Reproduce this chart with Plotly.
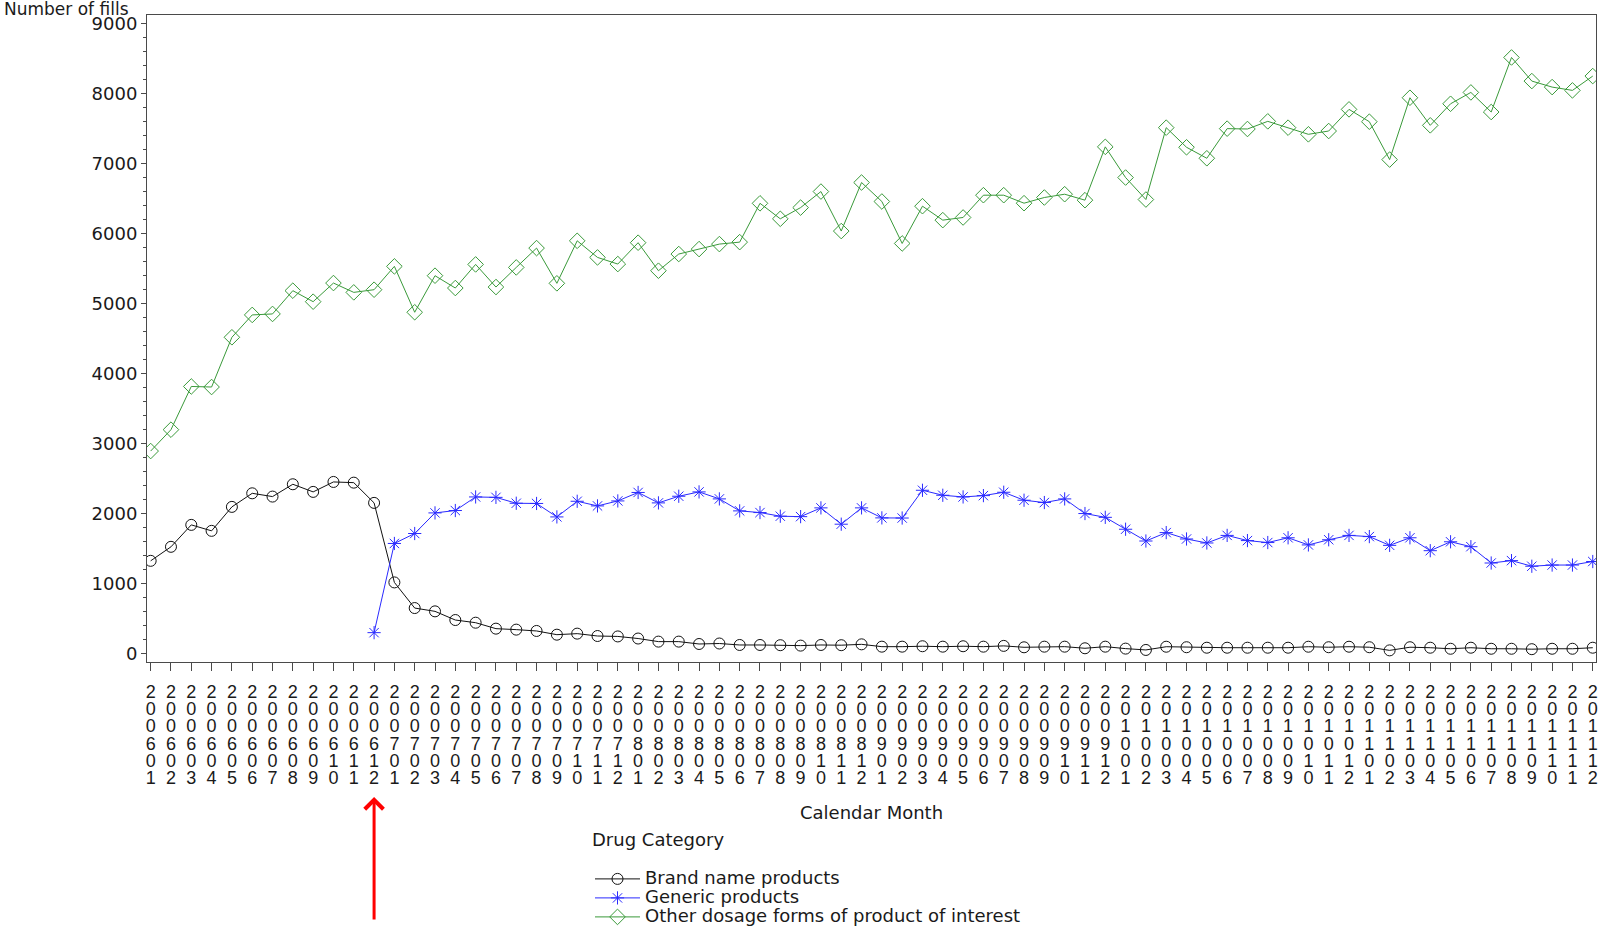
import plotly.graph_objects as go

months = [
    "200601", "200602", "200603", "200604", "200605", "200606", "200607", "200608", "200609", "200610", "200611", "200612",
    "200701", "200702", "200703", "200704", "200705", "200706", "200707", "200708", "200709", "200710", "200711", "200712",
    "200801", "200802", "200803", "200804", "200805", "200806", "200807", "200808", "200809", "200810", "200811", "200812",
    "200901", "200902", "200903", "200904", "200905", "200906", "200907", "200908", "200909", "200910", "200911", "200912",
    "201001", "201002", "201003", "201004", "201005", "201006", "201007", "201008", "201009", "201010", "201011", "201012",
    "201101", "201102", "201103", "201104", "201105", "201106", "201107", "201108", "201109", "201110", "201111", "201112",
]

brand = [
    1329, 1529, 1842, 1757, 2099, 2293, 2246, 2422, 2313, 2455, 2445, 2156,
    1021, 655, 608, 484, 446, 361, 347, 328, 275, 290, 256, 250,
    220, 176, 176, 142, 149, 128, 128, 125, 119, 128, 125, 137,
    104, 104, 110, 104, 110, 104, 115, 95, 104, 104, 81, 104,
    76, 57, 103, 96, 89, 89, 89, 89, 89, 103, 96, 103,
    96, 51, 96, 89, 74, 89, 74, 74, 68, 74, 74, 89,
]

generic = [
    None, None, None, None, None, None, None, None, None, None, None, 304,
    1577, 1719, 2013, 2047, 2241, 2235, 2151, 2148, 1956, 2179, 2113, 2184,
    2305, 2156, 2251, 2313, 2213, 2042, 2018, 1966, 1960, 2085, 1852, 2085,
    1942, 1940, 2336, 2265, 2241, 2260, 2308, 2194, 2161, 2213, 2004, 1950,
    1780, 1612, 1732, 1641, 1584, 1692, 1618, 1590, 1658, 1556, 1630, 1692,
    1675, 1550, 1658, 1474, 1601, 1531, 1298, 1332, 1252, 1269, 1269, 1319,
]

other = [
    2896, 3201, 3818, 3810, 4520, 4839, 4853, 5185, 5028, 5294, 5161, 5199,
    5532, 4877, 5399, 5223, 5560, 5237, 5517, 5793, 5290, 5897, 5660, 5565,
    5870, 5470, 5708, 5779, 5850, 5878, 6432, 6211, 6371, 6600, 6036, 6729,
    6458, 5859, 6391, 6192, 6230, 6548, 6548, 6434, 6515, 6562, 6477, 7238,
    6800, 6486, 7512, 7232, 7075, 7498, 7493, 7602, 7512, 7417, 7464, 7773,
    7597, 7056, 7939, 7545, 7853, 8015, 7735, 8514, 8177, 8091, 8044, 8248,
]

series_names = ["Brand name products", "Generic products", "Other dosage forms of product of interest"]
arrow_month = "200612"

y_ticks = [0, 1000, 2000, 3000, 4000, 5000, 6000, 7000, 8000, 9000]

# ---- layout constants ----
W, H = 1602, 928
ML, MR, MT, MB = 147, 6, 15, 266
PW = W - ML - MR
PH = H - MT - MB
XR = [-0.18, 71.16]
YR = [-115, 9120]
AX = "#4a4a4a"
TXT = "#1a1a1a"
FONT = "DejaVu Sans"


def px_to_paper_x(px):
    return (px - ML) / PW


def px_to_paper_y(py):
    return (H - MB - py) / PH


fig = go.Figure()

styles = [
    dict(color="#111111", symbol="circle-open", size=11),
    dict(color="#2a2aff", symbol="asterisk-open", size=11),
    dict(color="#3a9a3a", symbol="diamond-open", size=12),
]
for name, vals, st in zip(series_names, [brand, generic, other], styles):
    fig.add_trace(go.Scatter(
        x=months, y=vals, name=f'<span style="font-size:18px">{name}</span>',
        mode="lines+markers",
        line=dict(color=st["color"], width=1),
        marker=dict(symbol=st["symbol"], size=st["size"], color=st["color"],
                    line=dict(color=st["color"], width=1)),
        connectgaps=False,
    ))

# stacked digit tick labels: first row on main axis, others on overlay axes
n = len(months)
idx = list(range(n))
rows = [[m[k] for m in months] for k in range(6)]
row_gap = 17.2
base_off = 5

layout_axes = {}
layout_axes["xaxis"] = dict(
    type="category", range=XR, showgrid=False, zeroline=False,
    showline=True, linecolor=AX, linewidth=1, mirror=True,
    ticks="outside", ticklen=8, tickcolor=AX, tickwidth=1,
    tickmode="array", tickvals=months, ticktext=rows[0], tickangle=0,
    ticklabelstandoff=base_off,
    tickfont=dict(family="Liberation Sans", size=18, color=TXT),
)
for k in range(1, 6):
    ax_name = f"x{k+1}"
    layout_axes[f"xaxis{k+1}"] = dict(
        type="linear", range=XR, overlaying="x", anchor="y", side="bottom",
        showgrid=False, zeroline=False, showline=False,
        ticks="outside", ticklen=8, tickcolor="rgba(0,0,0,0)",
        tickmode="array", tickvals=idx, ticktext=rows[k], tickangle=0,
        ticklabelstandoff=round(base_off + k * row_gap),
        tickfont=dict(family="Liberation Sans", size=18, color=TXT),
    )
    # invisible carrier trace so the overlay axis gets drawn
    fig.add_trace(go.Scatter(
        x=idx, y=other, xaxis=ax_name, yaxis="y", mode="markers",
        marker=dict(opacity=0), showlegend=False, hoverinfo="skip",
    ))

fig.update_layout(
    width=W, height=H,
    margin=dict(l=ML, r=MR, t=MT, b=MB, autoexpand=False),
    paper_bgcolor="white", plot_bgcolor="white",
    font=dict(family=FONT, size=18, color=TXT),
    yaxis=dict(
        range=YR, showgrid=False, zeroline=False,
        showline=True, linecolor=AX, linewidth=1, mirror=True,
        ticks="outside", ticklen=5, tickcolor=AX,
        tickmode="array", tickvals=y_ticks, ticktext=[str(v) for v in y_ticks],
        tickfont=dict(family=FONT, size=18, color=TXT),
        minor=dict(ticks="outside", ticklen=3, dtick=200, tick0=0, tickcolor=AX, showgrid=False),
    ),
    legend=dict(
        x=px_to_paper_x(590), y=px_to_paper_y(828), xanchor="left", yanchor="top",
        font=dict(family=FONT, size=12, color=TXT),
        title=dict(text='<span style="font-size:18px">Drug Category</span><br>&nbsp;',
                   font=dict(family=FONT, size=14, color=TXT)),
        itemwidth=45, bgcolor="rgba(0,0,0,0)", tracegroupgap=0,
    ),
    showlegend=True,
    **layout_axes,
)

fig.add_annotation(
    text="Number of fills", xref="paper", yref="paper",
    x=px_to_paper_x(2), y=px_to_paper_y(-3), xanchor="left", yanchor="top",
    showarrow=False, font=dict(family=FONT, size=17, color=TXT),
)
fig.add_annotation(
    text="Calendar Month", xref="paper", yref="paper",
    x=0.5, y=px_to_paper_y(812), xanchor="center", yanchor="middle",
    showarrow=False, font=dict(family=FONT, size=18, color=TXT),
)
fig.add_annotation(
    text="", xref="x2", yref="paper", x=months.index(arrow_month), y=px_to_paper_y(797),
    showarrow=True, arrowhead=4, arrowsize=1.2, arrowwidth=3, arrowcolor="#ff0000",
    axref="pixel", ayref="pixel", ax=0, ay=124,
)

fig.write_html("out.html")
